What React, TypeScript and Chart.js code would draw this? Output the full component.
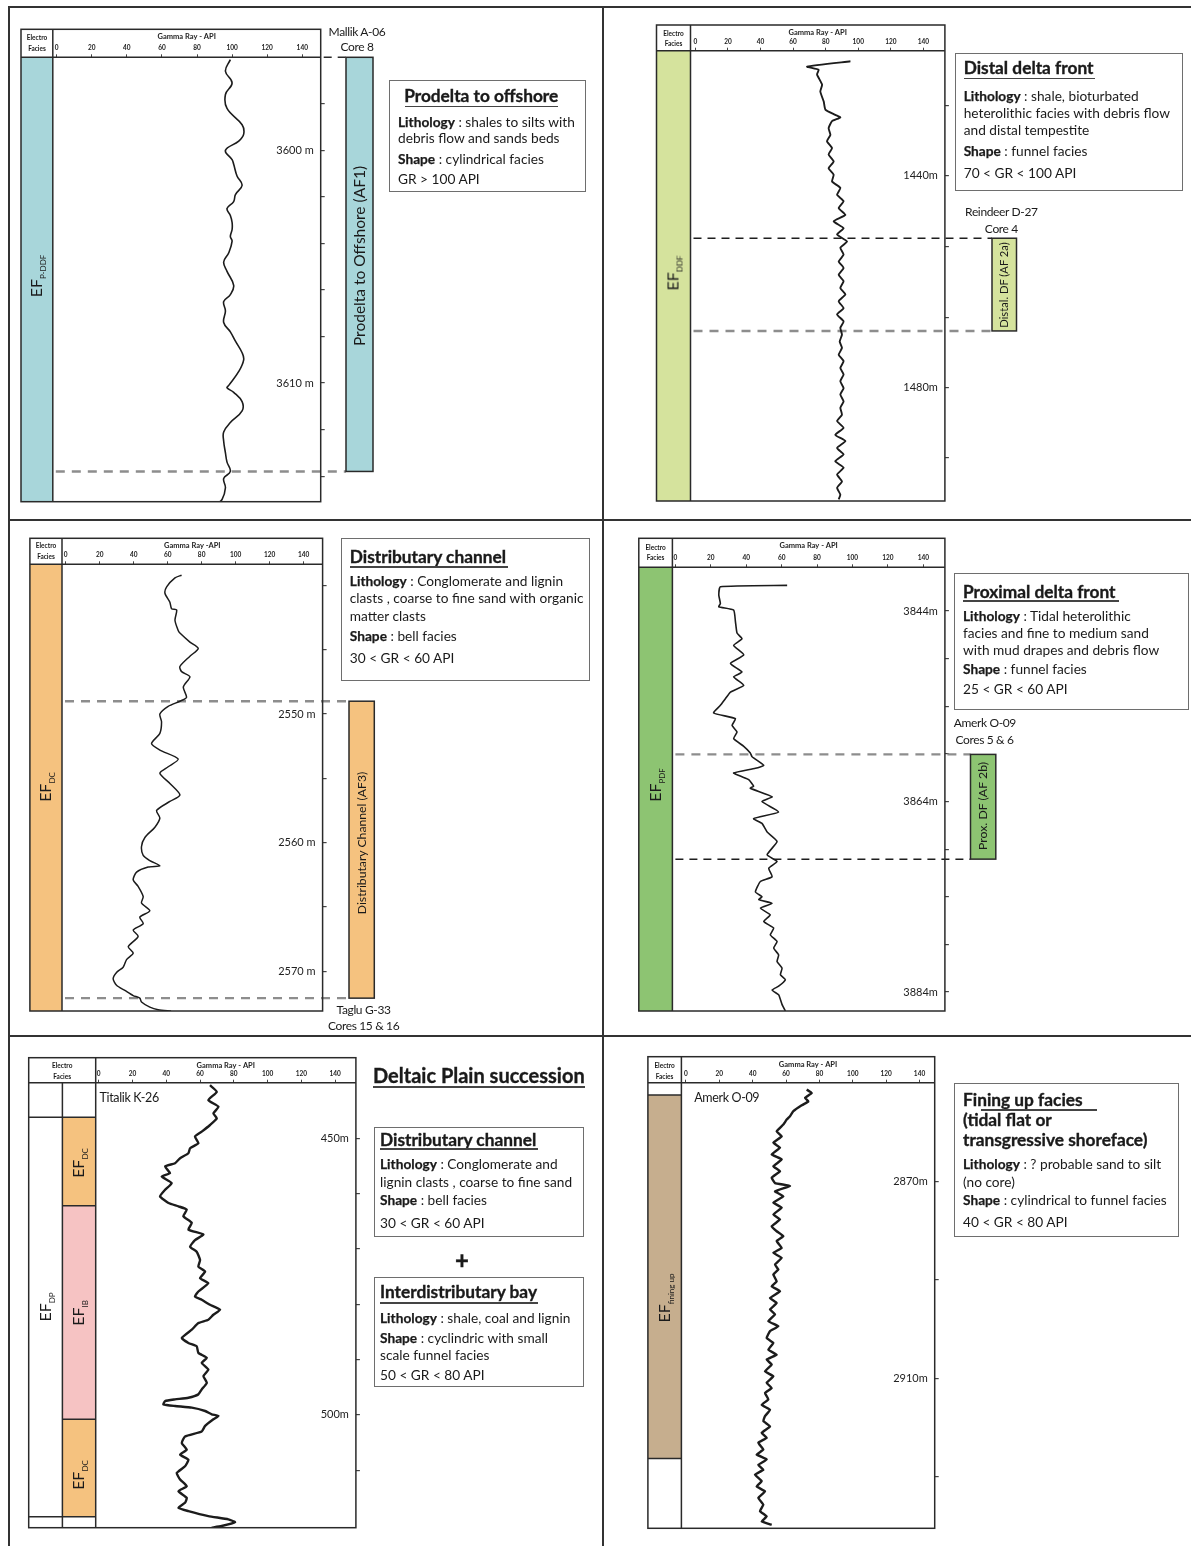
import React, { useEffect, useRef } from "react";
import { Chart, registerables } from "chart.js";
Chart.register(...registerables);

const FONT = "Lato, 'Open Sans', 'DejaVu Sans', sans-serif";
const LINE = "#2a2a2a";

// ================= DATA =================
const grTicks = [0, 20, 40, 60, 80, 100, 120, 140];

// Panel 1 – Mallik A-06 (Prodelta to offshore)
const p1Depth = [3596.1, 3596.6, 3597.1, 3597.6, 3598.2, 3598.9, 3599.3, 3599.6, 3600.0, 3600.4, 3600.6, 3601.1, 3601.5, 3601.9, 3602.2, 3602.5, 3602.8, 3603.1, 3603.4, 3603.7, 3603.9, 3604.4, 3604.8, 3605.2, 3605.8, 3606.2, 3606.5, 3606.9, 3607.4, 3607.8, 3608.2, 3608.7, 3609.0, 3609.5, 3610.1, 3610.2, 3610.4, 3610.8, 3611.2, 3611.7, 3612.1, 3612.5, 3613.0, 3613.4, 3613.8, 3614.1, 3614.5, 3615.0, 3615.2];
const p1GR = [99.0, 96.2, 100.0, 96.2, 97.1, 105.7, 106.6, 103.8, 96.2, 100.0, 100.9, 102.8, 105.7, 101.9, 100.9, 97.1, 99.0, 100.0, 100.0, 99.0, 100.0, 98.1, 95.2, 97.1, 100.9, 99.0, 95.2, 96.2, 95.2, 99.0, 101.9, 105.7, 106.6, 103.8, 98.1, 97.1, 100.9, 105.7, 105.7, 99.0, 95.2, 95.2, 96.2, 97.1, 99.0, 95.2, 96.2, 94.3, 91.4];
const p1DepthTicks = [3598, 3600, 3602, 3604, 3606, 3608, 3610, 3612, 3614];
const p1LabelDepths = [3600, 3610];
const p1LabelTexts = ["3600 m", "3610 m"];
const p1FaciesTop = [3596.0];
const p1FaciesBase = [3615.1];
const p1Core = [3596.0, 3613.8];
const p1Dashes = [3613.8];

// Panel 2 – Reindeer D-27 (Distal delta front)
const p2Depth = [1418.4, 1419.4, 1420.0, 1420.9, 1422.8, 1424.1, 1426.0, 1427.5, 1428.5, 1429.0, 1429.7, 1431.0, 1432.3, 1433.5, 1434.8, 1436.0, 1437.3, 1438.6, 1439.8, 1441.1, 1442.3, 1443.6, 1444.8, 1446.1, 1447.4, 1448.6, 1449.9, 1451.1, 1452.4, 1453.6, 1454.9, 1456.2, 1457.4, 1458.7, 1459.9, 1461.2, 1462.4, 1463.7, 1465.0, 1466.2, 1467.5, 1468.7, 1470.0, 1471.3, 1472.5, 1473.8, 1475.0, 1476.3, 1477.5, 1478.8, 1480.1, 1481.3, 1482.6, 1483.8, 1485.1, 1486.3, 1487.6, 1488.9, 1490.1, 1491.4, 1492.6, 1493.9, 1495.1, 1496.4, 1497.7, 1498.9, 1500.2, 1501.1];
const p2GR = [95.2, 68.6, 75.7, 74.7, 77.8, 76.7, 78.8, 79.8, 85.9, 89.0, 83.9, 81.8, 82.9, 80.8, 83.9, 81.8, 84.9, 81.8, 84.9, 83.9, 89.0, 87.0, 91.0, 88.0, 92.1, 84.9, 91.0, 87.0, 93.1, 89.0, 91.0, 88.0, 91.0, 88.0, 91.0, 89.0, 92.1, 88.0, 91.0, 87.0, 91.0, 89.0, 90.0, 88.6, 90.0, 88.0, 91.0, 89.0, 91.0, 89.0, 91.0, 89.0, 91.0, 89.0, 90.0, 87.0, 91.0, 85.9, 92.1, 87.0, 91.0, 85.9, 91.0, 87.0, 90.0, 87.0, 89.0, 88.0];
const p2DepthTicks = [1426.7, 1440, 1453.3, 1466.7, 1480, 1493.3];
const p2LabelDepths = [1440, 1480];
const p2LabelTexts = ["1440m", "1480m"];
const p2FaciesTop = [1416.4];
const p2FaciesBase = [1501.4];
const p2Core = [1451.8, 1469.3];
const p2DashesBlack = [1451.8];
const p2DashesGray = [1469.3];

// Panel 3 – Taglu G-33 (Distributary channel)
const p3Depth = [2539.2, 2539.4, 2540.1, 2540.6, 2541.3, 2541.8, 2541.9, 2542.7, 2543.5, 2543.7, 2544.4, 2544.9, 2545.5, 2546.3, 2546.7, 2547.1, 2547.9, 2548.7, 2549.0, 2549.4, 2550.0, 2550.6, 2551.5, 2552.3, 2552.8, 2553.5, 2554.1, 2554.6, 2555.4, 2556.3, 2556.8, 2557.5, 2558.1, 2558.8, 2559.6, 2560.3, 2561.0, 2561.4, 2561.8, 2561.9, 2562.3, 2562.9, 2563.4, 2564.2, 2564.7, 2565.3, 2565.8, 2566.3, 2566.8, 2567.3, 2568.1, 2568.6, 2569.1, 2569.7, 2570.1, 2570.6, 2571.1, 2571.5, 2571.9, 2572.1, 2572.4, 2572.8, 2573.0, 2573.1];
const p3GR = [68.2, 64.3, 59.4, 58.4, 61.3, 62.3, 65.3, 64.3, 66.2, 67.2, 73.1, 78.0, 73.1, 67.2, 68.2, 73.1, 69.2, 71.1, 67.2, 60.3, 55.4, 56.4, 55.4, 50.5, 55.4, 66.2, 60.3, 55.4, 61.3, 67.2, 61.3, 53.5, 55.4, 52.5, 46.6, 44.6, 45.6, 49.5, 55.4, 48.5, 41.7, 39.7, 42.6, 45.6, 44.6, 49.5, 43.6, 45.6, 39.7, 42.6, 36.8, 39.7, 35.8, 33.8, 29.9, 27.9, 29.9, 34.8, 39.7, 43.6, 44.6, 49.5, 54.4, 62.0];
const p3DepthTicks = [2540, 2545, 2550, 2555, 2560, 2565, 2570];
const p3LabelDepths = [2550, 2560, 2570];
const p3LabelTexts = ["2550 m", "2560 m", "2570 m"];
const p3FaciesTop = [2538.35];
const p3FaciesBase = [2573.1];
const p3Core = [2549.0, 2572.1];
const p3Dashes = [2549.0, 2572.1];

// Panel 4 – Amerk O-09 (Proximal delta front)
const p4Depth = [3841.3, 3841.45, 3842.3, 3843.2, 3843.55, 3843.9, 3845.1, 3846.3, 3846.9, 3847.6, 3848.6, 3849.5, 3850.4, 3850.9, 3851.8, 3852.5, 3853.2, 3853.9, 3854.7, 3855.3, 3856.0, 3856.7, 3857.4, 3858.2, 3858.9, 3859.3, 3860.2, 3860.5, 3861.0, 3861.4, 3861.7, 3862.4, 3862.6, 3863.5, 3864.0, 3865.1, 3865.8, 3866.3, 3867.2, 3868.2, 3869.6, 3870.3, 3871.0, 3871.9, 3872.4, 3873.5, 3874.0, 3874.3, 3874.7, 3875.2, 3875.9, 3876.6, 3877.3, 3878.0, 3878.7, 3879.4, 3880.1, 3880.8, 3881.5, 3882.2, 3882.7, 3883.4, 3883.8, 3884.3, 3884.8, 3885.3, 3886.0];
const p4GR = [63.1, 25.4, 24.5, 25.4, 24.5, 32.9, 33.9, 34.8, 37.6, 32.9, 38.6, 31.1, 37.6, 32.9, 38.6, 31.1, 28.2, 25.4, 21.6, 33.9, 32.0, 34.8, 32.9, 38.6, 42.3, 43.3, 49.9, 45.2, 32.9, 37.6, 41.4, 44.2, 42.3, 54.6, 48.9, 58.3, 44.2, 48.9, 51.8, 57.4, 51.8, 57.4, 52.7, 54.6, 48.0, 45.2, 48.9, 47.1, 54.6, 48.0, 53.6, 49.9, 55.5, 53.6, 57.4, 55.5, 58.3, 57.4, 60.2, 59.3, 62.1, 58.3, 54.6, 58.3, 59.3, 60.2, 62.1];
const p4DepthTicks = [3844, 3849, 3854, 3859, 3864, 3869, 3874, 3879, 3884];
const p4LabelDepths = [3844, 3864, 3884];
const p4LabelTexts = ["3844m", "3864m", "3884m"];
const p4FaciesTop = [3839.4];
const p4FaciesBase = [3886.0];
const p4Core = [3859.05, 3870.05];
const p4DashesGray = [3859.05];
const p4DashesBlack = [3870.05];

// Panel 5 – Titalik K-26 (Deltaic plain succession)
const p5Depth = [440.4, 441.6, 443.1, 444.3, 445.5, 446.4, 447.6, 448.8, 449.7, 450.9, 451.8, 452.7, 453.6, 454.5, 455.1, 456.3, 456.9, 458.1, 459.3, 460.5, 461.7, 462.3, 462.9, 464.1, 465.3, 466.5, 467.4, 468.4, 469.6, 470.5, 472.0, 473.2, 474.1, 475.3, 476.2, 477.7, 478.6, 479.2, 480.1, 481.0, 481.9, 482.8, 483.4, 484.6, 486.1, 487.0, 487.6, 488.8, 489.7, 490.6, 491.8, 493.0, 494.2, 495.4, 496.3, 496.9, 497.2, 497.5, 498.1, 498.4, 498.7, 499.3, 499.9, 500.2, 500.8, 502.0, 503.0, 503.9, 505.1, 506.3, 507.2, 508.1, 509.3, 510.5, 511.7, 512.9, 513.8, 515.0, 515.9, 516.8, 517.4, 518.3, 518.9, 519.4, 520.1, 520.4];
const p5GR = [65.9, 69.9, 64.9, 70.9, 67.9, 69.9, 65.9, 61.0, 57.0, 59.0, 54.1, 53.1, 48.2, 45.2, 39.3, 42.2, 37.3, 43.2, 39.3, 36.3, 41.3, 47.2, 52.1, 50.1, 55.1, 53.1, 62.0, 57.0, 54.1, 58.0, 60.0, 59.0, 63.0, 60.0, 64.9, 59.0, 57.0, 61.0, 65.9, 71.9, 67.9, 64.9, 59.0, 55.1, 49.2, 53.1, 58.0, 59.0, 64.0, 61.0, 64.9, 62.0, 64.0, 61.0, 59.0, 53.1, 45.2, 39.3, 38.3, 45.2, 55.1, 63.0, 66.9, 70.9, 67.9, 63.0, 61.0, 51.1, 49.2, 52.1, 48.2, 53.1, 51.1, 46.2, 48.2, 52.1, 47.2, 52.1, 51.1, 47.2, 53.1, 64.9, 76.8, 80.7, 72.8, 66.9];
const p5DepthTicks = [450, 460, 470, 480, 490, 500, 510];
const p5LabelDepths = [450, 500];
const p5LabelTexts = ["450m", "500m"];
const p5OuterTop = [439.95, 446.2, 518.4];
const p5OuterBase = [446.2, 518.4, 520.4];
const p5InnerTop = [439.95, 446.2, 462.2, 500.8, 518.4];
const p5InnerBase = [446.2, 462.2, 500.8, 518.4, 520.4];

// Panel 6 – Amerk O-09 (Fining up facies)
const p6Depth = [2851.3, 2852.0, 2853.0, 2853.7, 2854.5, 2855.7, 2856.7, 2857.4, 2858.4, 2859.8, 2860.8, 2862.1, 2863.1, 2864.5, 2865.5, 2866.9, 2867.9, 2869.2, 2870.3, 2870.9, 2872.0, 2873.0, 2874.3, 2875.3, 2876.7, 2877.7, 2879.1, 2880.1, 2881.1, 2882.1, 2883.5, 2884.5, 2885.5, 2886.9, 2887.9, 2888.9, 2890.3, 2891.3, 2892.3, 2893.7, 2894.7, 2896.0, 2897.0, 2898.4, 2899.4, 2900.4, 2901.8, 2902.8, 2904.2, 2905.2, 2906.2, 2907.2, 2908.6, 2909.6, 2910.9, 2912.0, 2913.0, 2914.3, 2915.4, 2916.4, 2917.7, 2918.7, 2919.8, 2921.1, 2922.1, 2923.1, 2924.5, 2925.5, 2926.5, 2927.6, 2928.6, 2929.6, 2930.9, 2932.0, 2933.0, 2934.3, 2935.7, 2937.0, 2938.1, 2939.1, 2939.8];
const p6GR = [72.4, 75.4, 71.4, 73.4, 69.4, 64.4, 62.4, 60.4, 58.4, 54.4, 57.4, 52.4, 56.4, 51.4, 57.4, 52.4, 56.4, 51.4, 53.4, 62.4, 53.4, 58.4, 52.4, 57.4, 52.4, 56.4, 51.4, 54.4, 58.4, 54.4, 57.4, 52.4, 57.4, 53.4, 55.4, 52.4, 54.4, 51.4, 56.4, 50.4, 54.4, 50.4, 53.4, 49.4, 55.4, 50.4, 48.4, 52.4, 49.4, 54.4, 48.4, 51.4, 47.4, 52.4, 48.4, 51.4, 47.4, 49.4, 45.4, 50.4, 47.4, 46.4, 50.4, 45.4, 48.4, 43.4, 46.4, 42.4, 48.4, 43.4, 46.4, 41.4, 45.4, 42.4, 47.4, 43.4, 46.4, 44.4, 48.4, 45.4, 51.4];
const p6DepthTicks = [2870, 2890, 2910, 2930];
const p6LabelDepths = [2870, 2910];
const p6LabelTexts = ["2870m", "2910m"];
const p6FaciesTop = [2849.9, 2852.4, 2926.3];
const p6FaciesBase = [2852.4, 2926.3, 2940.5];

// ================= STYLES =================
const C_TEAL = "#a8d6da";
const C_LIME = "#d5e39d";
const C_ORANGE = "#f5c27f";
const C_GREEN = "#8dc472";
const C_PINK = "#f6c3c3";
const C_TAN = "#c6ae8e";
const C_WHITE = "#ffffff";

const BODY = 13.7;
const TITLE = 17.3;

type Col = { left: number; right: number; tops: number[]; bases: number[]; fills: string[]; sepFromHeader?: boolean };
type Cfg = {
  id: string;
  cell: { x: number; y: number; w: number; h: number };
  frame: { left: number; top: number; header: number; right: number; bottom: number };
  plotLeft: number;
  xMin: number; xMax: number; yMin: number; yMax: number;
  depth: number[]; gr: number[];
  ticks: number[]; labelDepths: number[]; labelTexts: string[];
  title: string;
  lineWidth: number; tension: number;
  cols: Col[];
  core?: { left: number; right: number; top: number; base: number; fill: string };
  grayDashes: number[]; blackDashes: number[];
  headerDashTo?: number;
};

const YAXW = 5;

const panels: Cfg[] = [
  {
    id: "p1",
    cell: { x: 9, y: 7, w: 594, h: 513 },
    frame: { left: 21, top: 29.3, header: 57.3, right: 320.7, bottom: 501.7 },
    plotLeft: 52.8, xMin: -2.2, xMax: 150.5, yMin: 3596.0, yMax: 3615.1,
    depth: p1Depth, gr: p1GR, ticks: p1DepthTicks, labelDepths: p1LabelDepths, labelTexts: p1LabelTexts,
    title: "Gamma Ray - API", lineWidth: 1.6, tension: 0.4,
    cols: [{ left: 21, right: 52.8, tops: p1FaciesTop, bases: p1FaciesBase, fills: [C_TEAL] }],
    core: { left: 346, right: 373, top: p1Core[0], base: p1Core[1], fill: C_TEAL },
    grayDashes: p1Dashes, blackDashes: [], headerDashTo: 346,
  },
  {
    id: "p2",
    cell: { x: 603, y: 7, w: 588, h: 513 },
    frame: { left: 656.5, top: 25, header: 50.7, right: 944.9, bottom: 501 },
    plotLeft: 690.5, xMin: -3.0, xMax: 153.2, yMin: 1416.4, yMax: 1501.4,
    depth: p2Depth, gr: p2GR, ticks: p2DepthTicks, labelDepths: p2LabelDepths, labelTexts: p2LabelTexts,
    title: "Gamma Ray - API", lineWidth: 1.9, tension: 0.15,
    cols: [{ left: 656.5, right: 690.5, tops: p2FaciesTop, bases: p2FaciesBase, fills: [C_LIME] }],
    core: { left: 992, right: 1016.5, top: p2Core[0], base: p2Core[1], fill: C_LIME },
    grayDashes: p2DashesGray, blackDashes: p2DashesBlack,
  },
  {
    id: "p3",
    cell: { x: 9, y: 520, w: 594, h: 516 },
    frame: { left: 29.9, top: 538.3, header: 564.3, right: 322.6, bottom: 1011 },
    plotLeft: 62, xMin: -2.2, xMax: 151.2, yMin: 2538.35, yMax: 2573.1,
    depth: p3Depth, gr: p3GR, ticks: p3DepthTicks, labelDepths: p3LabelDepths, labelTexts: p3LabelTexts,
    title: "Gamma Ray -API", lineWidth: 1.5, tension: 0.25,
    cols: [{ left: 29.9, right: 62, tops: p3FaciesTop, bases: p3FaciesBase, fills: [C_ORANGE] }],
    core: { left: 349, right: 374.3, top: p3Core[0], base: p3Core[1], fill: C_ORANGE },
    grayDashes: p3Dashes, blackDashes: [],
  },
  {
    id: "p4",
    cell: { x: 603, y: 520, w: 588, h: 516 },
    frame: { left: 638.8, top: 538.3, header: 567.3, right: 944.9, bottom: 1011 },
    plotLeft: 672.4, xMin: -1.7, xMax: 152.2, yMin: 3839.4, yMax: 3886.0,
    depth: p4Depth, gr: p4GR, ticks: p4DepthTicks, labelDepths: p4LabelDepths, labelTexts: p4LabelTexts,
    title: "Gamma Ray - API", lineWidth: 1.6, tension: 0.15,
    cols: [{ left: 638.8, right: 672.4, tops: p4FaciesTop, bases: p4FaciesBase, fills: [C_GREEN] }],
    core: { left: 970.5, right: 995.8, top: p4Core[0], base: p4Core[1], fill: C_GREEN },
    grayDashes: p4DashesGray, blackDashes: p4DashesBlack,
  },
  {
    id: "p5",
    cell: { x: 9, y: 1036, w: 594, h: 510 },
    frame: { left: 28.7, top: 1057.7, header: 1082.7, right: 355.9, bottom: 1527.7 },
    plotLeft: 95.7, xMin: -1.8, xMax: 152.3, yMin: 439.95, yMax: 520.4,
    depth: p5Depth, gr: p5GR, ticks: p5DepthTicks, labelDepths: p5LabelDepths, labelTexts: p5LabelTexts,
    title: "Gamma Ray - API", lineWidth: 2.4, tension: 0.15,
    cols: [
      { left: 28.7, right: 62.4, tops: p5OuterTop, bases: p5OuterBase, fills: [C_WHITE, C_WHITE, C_WHITE], sepFromHeader: true },
      { left: 62.4, right: 95.7, tops: p5InnerTop, bases: p5InnerBase, fills: [C_WHITE, C_ORANGE, C_PINK, C_ORANGE, C_WHITE] },
    ],
    grayDashes: [], blackDashes: [],
  },
  {
    id: "p6",
    cell: { x: 603, y: 1036, w: 588, h: 510 },
    frame: { left: 647.9, top: 1056.7, header: 1082.7, right: 934.7, bottom: 1528.3 },
    plotLeft: 681.4, xMin: -2.7, xMax: 149.1, yMin: 2849.9, yMax: 2940.5,
    depth: p6Depth, gr: p6GR, ticks: p6DepthTicks, labelDepths: p6LabelDepths, labelTexts: p6LabelTexts,
    title: "Gamma Ray - API", lineWidth: 2.4, tension: 0.1,
    cols: [{ left: 647.9, right: 681.4, tops: p6FaciesTop, bases: p6FaciesBase, fills: [C_WHITE, C_TAN, C_WHITE] }],
    grayDashes: [], blackDashes: [],
  },
];

function decorPlugin(cfg: Cfg) {
  const ox = cfg.cell.x;
  const oy = cfg.cell.y;
  return {
    id: "logDecor_" + cfg.id,
    beforeDatasetsDraw(chart: any) {
      const ctx = chart.ctx as CanvasRenderingContext2D;
      const ys = chart.scales.y;
      const ca = chart.chartArea;
      const py = (d: number) => Math.min(Math.max(ys.getPixelForValue(d), ca.top), ca.bottom);
      ctx.save();
      for (const col of cfg.cols) {
        col.tops.forEach((t, i) => {
          const y1 = py(t);
          const y2 = py(col.bases[i]);
          ctx.fillStyle = col.fills[i];
          ctx.fillRect(col.left - ox, y1, col.right - col.left, y2 - y1);
        });
      }
      const dashEnd = (cfg.core ? cfg.core.left : cfg.frame.right) - ox;
      const drawDash = (d: number, gray: boolean) => {
        const y = ys.getPixelForValue(d);
        ctx.beginPath();
        ctx.setLineDash(gray ? [9, 7] : [8, 6]);
        ctx.strokeStyle = gray ? "#8d8d8d" : "#1e1e1e";
        ctx.lineWidth = gray ? 2.4 : 1.5;
        ctx.moveTo(ca.left + 3, y);
        ctx.lineTo(dashEnd, y);
        ctx.stroke();
      };
      cfg.grayDashes.forEach((d) => drawDash(d, true));
      cfg.blackDashes.forEach((d) => drawDash(d, false));
      ctx.setLineDash([]);
      if (cfg.core) {
        const c = cfg.core;
        const y1 = py(c.top);
        const y2 = ys.getPixelForValue(c.base);
        ctx.fillStyle = c.fill;
        ctx.fillRect(c.left - ox, y1, c.right - c.left, y2 - y1);
        ctx.strokeStyle = LINE;
        ctx.lineWidth = 1.5;
        ctx.strokeRect(c.left - ox, y1, c.right - c.left, y2 - y1);
      }
      ctx.restore();
    },
    afterDatasetsDraw(chart: any) {
      const ctx = chart.ctx as CanvasRenderingContext2D;
      const ys = chart.scales.y;
      const ca = chart.chartArea;
      const L = cfg.frame.left - ox;
      const T = cfg.frame.top - oy;
      const R = ca.right;
      const B = ca.bottom;
      const line = (x1: number, y1: number, x2: number, y2: number) => {
        ctx.beginPath();
        ctx.moveTo(x1, y1);
        ctx.lineTo(x2, y2);
        ctx.stroke();
      };
      ctx.save();
      ctx.strokeStyle = LINE;
      ctx.lineWidth = 1.5;
      ctx.strokeRect(L, T, R - L, B - T);
      line(L, ca.top, R, ca.top);
      for (const col of cfg.cols) {
        line(col.right - ox, col.sepFromHeader ? ca.top : T, col.right - ox, B);
        col.tops.forEach((t) => {
          if (t > cfg.yMin + 0.01) {
            const y = ys.getPixelForValue(t);
            line(col.left - ox, y, col.right - ox, y);
          }
        });
      }
      if (cfg.headerDashTo) {
        ctx.setLineDash([8, 6]);
        line(R + 3, ca.top, cfg.headerDashTo - ox, ca.top);
      }
      ctx.restore();
    },
  };
}

function buildConfig(cfg: Cfg): any {
  const padL = cfg.plotLeft - cfg.cell.x;
  const padT = cfg.frame.top - cfg.cell.y;
  const padR = cfg.cell.x + cfg.cell.w - cfg.frame.right - YAXW;
  const padB = cfg.cell.y + cfg.cell.h - cfg.frame.bottom;
  const headerH = cfg.frame.header - cfg.frame.top;
  const n = Math.min(cfg.depth.length, cfg.gr.length);
  const pts = [];
  for (let i = 0; i < n; i++) pts.push({ x: cfg.gr[i], y: cfg.depth[i] });
  const zeroPad = (s: any) => {
    s.paddingLeft = 0;
    s.paddingRight = 0;
    s.paddingTop = 0;
    s.paddingBottom = 0;
  };
  return {
    type: "scatter",
    data: {
      datasets: [
        {
          data: pts,
          showLine: true,
          borderColor: "#1c1c1c",
          borderWidth: cfg.lineWidth,
          pointRadius: 0,
          tension: cfg.tension,
          fill: false,
        },
      ],
    },
    options: {
      animation: false,
      responsive: false,
      maintainAspectRatio: false,
      devicePixelRatio: 1,
      events: [],
      layout: { padding: { left: padL, top: padT, right: padR, bottom: padB } },
      plugins: { legend: { display: false }, tooltip: { enabled: false } },
      scales: {
        x: {
          type: "linear",
          position: "top",
          min: cfg.xMin,
          max: cfg.xMax,
          afterBuildTicks: (s: any) => {
            s.ticks = grTicks.map((v) => ({ value: v }));
          },
          afterFit: (s: any) => {
            s.height = headerH;
            zeroPad(s);
          },
          ticks: {
            autoSkip: false,
            maxRotation: 0,
            minRotation: 0,
            padding: 2,
            color: "#222",
            font: { family: FONT, size: 6.5, weight: "bold" },
            callback: (v: any) => String(v),
          },
          grid: { drawOnChartArea: false, drawTicks: true, tickLength: 3, color: "#444", lineWidth: 1 },
          border: { display: false },
          title: {
            display: true,
            text: cfg.title,
            color: "#222",
            font: { family: FONT, size: 7.5, weight: "bold" },
            padding: { top: 3, bottom: 0 },
          },
        },
        y: {
          type: "linear",
          position: "right",
          reverse: true,
          min: cfg.yMin,
          max: cfg.yMax,
          afterBuildTicks: (s: any) => {
            s.ticks = cfg.ticks.map((v) => ({ value: v }));
          },
          afterFit: (s: any) => {
            s.width = YAXW;
            zeroPad(s);
          },
          ticks: {
            autoSkip: false,
            mirror: true,
            padding: -7,
            color: "#222",
            font: { family: FONT, size: 11 },
            callback: (v: any) => {
              const i = cfg.labelDepths.indexOf(v);
              return i >= 0 ? cfg.labelTexts[i] : "";
            },
          },
          grid: { drawOnChartArea: false, drawTicks: true, tickLength: 4, color: "#444", lineWidth: 1.2 },
          border: { display: false },
        },
      },
    },
    plugins: [decorPlugin(cfg)],
  };
}

function LogChart({ cfg }: { cfg: Cfg }) {
  const ref = useRef<HTMLCanvasElement>(null);
  useEffect(() => {
    const canvas = ref.current;
    if (!canvas) return;
    const chart = new Chart(canvas, buildConfig(cfg));
    return () => chart.destroy();
  }, [cfg]);
  return (
    <canvas
      ref={ref}
      width={cfg.cell.w}
      height={cfg.cell.h}
      style={{ position: "absolute", left: cfg.cell.x, top: cfg.cell.y, width: cfg.cell.w, height: cfg.cell.h }}
    />
  );
}

// ================= TEXT HELPERS =================
function T(props: { x: number; y: number; s?: number; b?: boolean; a?: "left" | "center" | "right"; ls?: number; heavy?: boolean; children: any }) {
  const { x, y, s = BODY, b = false, a = "left", ls = 0, heavy = false, children } = props;
  const tx = a === "center" ? "-50%" : a === "right" ? "-100%" : "0";
  return (
    <div
      style={{
        position: "absolute",
        left: x,
        top: y,
        transform: `translate(${tx}, -50%)`,
        fontSize: s,
        fontWeight: b ? 700 : 400,
        color: "#1a1a1a",
        whiteSpace: "nowrap",
        lineHeight: 1.15,
        letterSpacing: ls,
        fontFamily: FONT,
        WebkitTextStroke: heavy ? "0.35px #1a1a1a" : undefined,
      }}
    >
      {children}
    </div>
  );
}

function V(props: { x: number; y: number; s?: number; children: any }) {
  const { x, y, s = 12, children } = props;
  return (
    <div
      style={{
        position: "absolute",
        left: x,
        top: y,
        transform: "translate(-50%, -50%) rotate(-90deg)",
        fontSize: s,
        whiteSpace: "nowrap",
        lineHeight: 1,
        color: "#1a1a1a",
        fontFamily: FONT,
      }}
    >
      {children}
    </div>
  );
}

function EF({ x, y, sub }: { x: number; y: number; sub: string }) {
  return (
    <V x={x} y={y} s={16}>
      EF<sub style={{ fontSize: 8, verticalAlign: "-4px" }}>{sub}</sub>
    </V>
  );
}

function Box({ x1, y1, x2, y2 }: { x1: number; y1: number; x2: number; y2: number }) {
  return (
    <div
      style={{
        position: "absolute",
        left: x1,
        top: y1,
        width: x2 - x1,
        height: y2 - y1,
        border: "1.5px solid #6e6e6e",
        boxSizing: "border-box",
      }}
    />
  );
}

function HL({ x1, x2, y, w = 1.5, c = "#444" }: { x1: number; x2: number; y: number; w?: number; c?: string }) {
  return <div style={{ position: "absolute", left: x1, top: y - w / 2, width: x2 - x1, height: w, background: c }} />;
}

function VL({ x, y1, y2, w = 2, c = "#333" }: { x: number; y1: number; y2: number; w?: number; c?: string }) {
  return <div style={{ position: "absolute", left: x - w / 2, top: y1, width: w, height: y2 - y1, background: c }} />;
}

function Hdr({ x, y }: { x: number; y: number }) {
  return (
    <>
      <T x={x} y={y} s={6.5} b a="center">Electro</T>
      <T x={x} y={y + 10.5} s={6.5} b a="center">Facies</T>
    </>
  );
}

function Title(props: { x: number; y: number; a?: "left" | "center"; s?: number; children: any }) {
  return <T x={props.x} y={props.y} s={props.s ?? TITLE} b heavy a={props.a ?? "left"}>{props.children}</T>;
}

const Bd = ({ children }: { children: any }) => <span style={{ fontWeight: 700, WebkitTextStroke: "0.25px #1a1a1a" }}>{children}</span>;

export default function App() {
  return (
    <div
      style={{
        position: "absolute",
        left: 0,
        top: 0,
        width: 1191,
        height: 1546,
        background: "#fff",
        overflow: "hidden",
        fontFamily: FONT,
      }}
    >
      {panels.map((p) => (
        <LogChart key={p.id} cfg={p} />
      ))}

      {/* grid frame */}
      <HL x1={8} x2={1191} y={7} w={2} c="#333" />
      <HL x1={8} x2={1191} y={520} w={2} c="#333" />
      <HL x1={8} x2={1191} y={1036} w={2} c="#333" />
      <VL x={8.5} y1={6} y2={1546} />
      <VL x={603} y1={6} y2={1546} />

      {/* ---------- Panel 1 ---------- */}
      <Hdr x={37} y={38} />
      <EF x={37} y={276} sub="P-DDF" />
      <V x={359.5} y={256} s={15.5}>Prodelta to Offshore (AF1)</V>
      <T x={357} y={31.5} s={12} a="center" ls={-0.35}>Mallik A-06</T>
      <T x={357} y={46.7} s={12} a="center" ls={-0.35}>Core 8</T>
      <Box x1={388.5} y1={80} x2={585.5} y2={191.7} />
      <Title x={481.2} y={96.2} a="center">Prodelta to offshore</Title>
      <HL x1={404.5} x2={558} y={106.5} />
      <T x={398} y={121.7}><Bd>Lithology</Bd> : shales to silts with</T>
      <T x={398} y={138.3}>debris flow and sands beds</T>
      <T x={398} y={159.3}><Bd>Shape</Bd> : cylindrical facies</T>
      <T x={398} y={179.3}>GR &gt; 100 API</T>

      {/* ---------- Panel 2 ---------- */}
      <Hdr x={673.5} y={33.5} />
      <EF x={673.5} y={273} sub="DDF" />
      <V x={1004.2} y={284.5} s={11.2}>Distal. DF (AF 2a)</V>
      <T x={1001.4} y={212.3} s={12} a="center" ls={-0.35}>Reindeer D-27</T>
      <T x={1001.4} y={228.7} s={12} a="center" ls={-0.35}>Core 4</T>
      <Box x1={955} y1={53.3} x2={1183} y2={190.7} />
      <Title x={963.7} y={68.3}>Distal delta front</Title>
      <HL x1={963.7} x2={1095} y={78.6} />
      <T x={963.7} y={95.7}><Bd>Lithology</Bd> : shale, bioturbated</T>
      <T x={963.7} y={112.7}>heterolithic facies with debris flow</T>
      <T x={963.7} y={130}>and distal tempestite</T>
      <T x={963.7} y={150.7}><Bd>Shape</Bd> : funnel facies</T>
      <T x={963.7} y={173.3}>70 &lt; GR &lt; 100 API</T>

      {/* ---------- Panel 3 ---------- */}
      <Hdr x={46} y={546} />
      <EF x={46} y={786.7} sub="DC" />
      <V x={361.7} y={843.3} s={12.2}>Distributary Channel (AF3)</V>
      <T x={363.6} y={1010} s={12} a="center" ls={-0.35}>Taglu G-33</T>
      <T x={363.6} y={1025.5} s={12} a="center" ls={-0.35}>Cores 15 &amp; 16</T>
      <Box x1={340.6} y1={538.3} x2={590.5} y2={680.7} />
      <Title x={349.8} y={556.7}>Distributary channel</Title>
      <HL x1={349.8} x2={508} y={567} />
      <T x={349.8} y={581}><Bd>Lithology</Bd> : Conglomerate and lignin</T>
      <T x={349.8} y={598.3}>clasts , coarse to fine sand with organic</T>
      <T x={349.8} y={616}>matter clasts</T>
      <T x={349.8} y={636}><Bd>Shape</Bd> : bell facies</T>
      <T x={349.8} y={658.3}>30 &lt; GR &lt; 60 API</T>

      {/* ---------- Panel 4 ---------- */}
      <Hdr x={655.6} y={547.5} />
      <EF x={655.6} y={785} sub="PDF" />
      <V x={983.1} y={805.8} s={12.3}>Prox. DF (AF 2b)</V>
      <T x={984.8} y={723.3} s={12} a="center" ls={-0.35}>Amerk O-09</T>
      <T x={984.5} y={740} s={12} a="center" ls={-0.35}>Cores 5 &amp; 6</T>
      <Box x1={953.6} y1={573.3} x2={1188.8} y2={710} />
      <Title x={963} y={591.7}>Proximal delta front</Title>
      <HL x1={963} x2={1119.4} y={600.8} />
      <T x={963} y={616}><Bd>Lithology</Bd> :  Tidal heterolithic</T>
      <T x={963} y={632.7}>facies and fine to medium sand</T>
      <T x={963} y={650}>with mud drapes and debris flow</T>
      <T x={963} y={669}><Bd>Shape</Bd> : funnel facies</T>
      <T x={963} y={689.3}>25 &lt; GR &lt; 60 API</T>

      {/* ---------- Panel 5 ---------- */}
      <Hdr x={62.2} y={1066} />
      <EF x={45.5} y={1306.7} sub="DP" />
      <EF x={79} y={1163} sub="DC" />
      <EF x={79} y={1313} sub="IB" />
      <EF x={79} y={1475} sub="DC" />
      <T x={99.5} y={1098.3} s={12.5} ls={-0.35}>Titalik K-26</T>
      <Title x={373} y={1075} s={20}>Deltaic Plain succession</Title>
      <HL x1={373} x2={585} y={1087} />
      <Box x1={373.9} y1={1127.3} x2={583.6} y2={1237.3} />
      <Title x={380} y={1140}>Distributary channel</Title>
      <HL x1={380} x2={537.7} y={1149} />
      <T x={380} y={1164.3}><Bd>Lithology</Bd> : Conglomerate and</T>
      <T x={380} y={1181.7}>lignin clasts , coarse to fine sand</T>
      <T x={380} y={1200}><Bd>Shape</Bd> : bell facies</T>
      <T x={380} y={1222.7}>30 &lt; GR &lt; 60 API</T>
      <T x={462} y={1260} s={24} b heavy a="center">+</T>
      <Box x1={373.9} y1={1277.3} x2={583.6} y2={1387.3} />
      <Title x={380} y={1291.7}>Interdistributary bay</Title>
      <HL x1={380} x2={537.7} y={1303} />
      <T x={380} y={1318.3}><Bd>Lithology</Bd> : shale, coal and lignin</T>
      <T x={380} y={1338.3}><Bd>Shape</Bd> : cyclindric with small</T>
      <T x={380} y={1355}>scale funnel facies</T>
      <T x={380} y={1375}>50 &lt; GR &lt; 80 API</T>

      {/* ---------- Panel 6 ---------- */}
      <Hdr x={664.6} y={1066} />
      <EF x={664.6} y={1298} sub="fining up" />
      <T x={694.2} y={1097.7} s={12.5} ls={-0.35}>Amerk O-09</T>
      <Box x1={954.3} y1={1082.7} x2={1179.3} y2={1237.3} />
      <Title x={963} y={1100}>Fining up facies</Title>
      <HL x1={980.7} x2={1097.5} y={1109.8} />
      <Title x={963} y={1120}>(tidal flat or</Title>
      <Title x={963} y={1140}>transgressive shoreface)</Title>
      <T x={963} y={1164.3}><Bd>Lithology</Bd> :  ? probable sand to silt</T>
      <T x={963} y={1181.7}>(no core)</T>
      <T x={963} y={1200}><Bd>Shape</Bd> :  cylindrical to funnel facies</T>
      <T x={963} y={1221.7}>40 &lt; GR &lt; 80 API</T>
    </div>
  );
}
